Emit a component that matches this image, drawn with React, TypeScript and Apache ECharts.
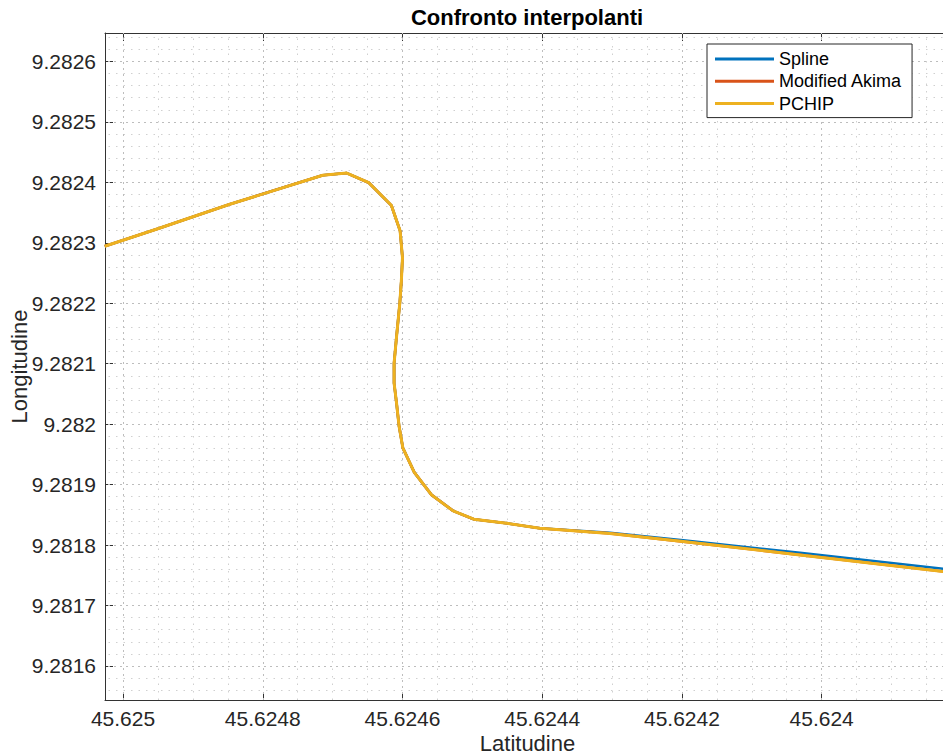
import React, { useEffect, useRef } from "react";
import * as echarts from "echarts";

// ---- data ----
const pchipLat = [
  45.6250262, 45.6249503, 45.6248472, 45.6247141, 45.6246797, 45.6246482, 45.624616,
  45.6246034, 45.6246, 45.6246017, 45.6246038, 45.6246085, 45.624612, 45.624612,
  45.6246085, 45.6246048, 45.6245995, 45.6245831, 45.6245584, 45.6245275, 45.6244979,
  45.624451, 45.6244034, 45.6243031, 45.6241982, 45.6240311, 45.6238163,
];
const pchipLon = [
  9.2822942, 9.2823232, 9.2823637, 9.2824117, 9.2824153, 9.2823993, 9.282362,
  9.2823198, 9.2822752, 9.2822354, 9.2822007, 9.2821449, 9.2821009, 9.2820678,
  9.2820347, 9.281996, 9.2819608, 9.2819202, 9.281883, 9.2818565, 9.2818428,
  9.2818361, 9.2818279, 9.2818193, 9.2818057, 9.2817837, 9.281755,
];
const akimaLat = [
  45.6250262, 45.6249503, 45.6248472, 45.6247141, 45.6246797, 45.6246482, 45.624616,
  45.6246034, 45.6246, 45.6246017, 45.6246038, 45.6246085, 45.624612, 45.624612,
  45.6246085, 45.6246048, 45.6245995, 45.6245831, 45.6245584, 45.6245275, 45.6244979,
  45.624451, 45.6244034, 45.6243031, 45.6241982, 45.6240311, 45.6238163,
];
const akimaLon = [
  9.2822942, 9.2823232, 9.2823637, 9.2824117, 9.2824153, 9.2823993, 9.282362,
  9.2823198, 9.2822752, 9.2822354, 9.2822007, 9.2821449, 9.2821009, 9.2820678,
  9.2820347, 9.281996, 9.2819608, 9.2819202, 9.281883, 9.2818565, 9.2818428,
  9.2818361, 9.2818279, 9.2818193, 9.2818057, 9.2817837, 9.281755,
];
const splineLat = [
  45.6250262, 45.6249503, 45.6248472, 45.6247141, 45.6246797, 45.6246482, 45.624616,
  45.6246034, 45.6246, 45.6246017, 45.6246038, 45.6246085, 45.624612, 45.624612,
  45.6246085, 45.6246048, 45.6245995, 45.6245831, 45.6245584, 45.6245275, 45.6244979,
  45.624451, 45.6244034, 45.6243031, 45.6241982, 45.6240311, 45.6238163,
];
const splineLon = [
  9.2822942, 9.2823232, 9.2823637, 9.2824117, 9.2824153, 9.2823993, 9.282362,
  9.2823198, 9.2822752, 9.2822354, 9.2822007, 9.2821449, 9.2821009, 9.2820678,
  9.2820347, 9.281996, 9.2819608, 9.2819202, 9.281883, 9.2818565, 9.2818428,
  9.2818361, 9.2818279, 9.2818201, 9.2818077, 9.2817873, 9.2817595,
];

const seriesNames = ["Spline", "Modified Akima", "PCHIP"];
const seriesColors = ["#0072BD", "#D95319", "#EDB120"];

const xTicks = [45.625, 45.6248, 45.6246, 45.6244, 45.6242, 45.624];
const yTicks = [
  9.2816, 9.2817, 9.2818, 9.2819, 9.282, 9.2821, 9.2822, 9.2823, 9.2824, 9.2825, 9.2826,
];
const xMin = 45.6238163;
const xMax = 45.6250258;
const yMin = 9.2815437;
const yMax = 9.282647;
const xMinorStep = 0.00005;
const xMinorPerMajor = 4;
const yMinorStep = 0.00002;
const yMinorPerMajor = 5;

const FONT = "'Liberation Sans', Arial, Helvetica, sans-serif";
const TXT = "#262626";

function pairs(a: number[], b: number[]) {
  return a.map((v, i) => [v, b[i]]);
}

function minorValues(min: number, max: number, step: number, per: number) {
  const out: number[] = [];
  const k0 = Math.ceil(min / step - 1e-9);
  const k1 = Math.floor(max / step + 1e-9);
  for (let k = k0; k <= k1; k++) {
    if (k % per === 0) continue;
    out.push(+(k * step).toFixed(8));
  }
  return out;
}

export default function App() {
  const ref = useRef<HTMLDivElement>(null);
  useEffect(() => {
    if (!ref.current) return;
    const chart = echarts.init(ref.current, undefined, { renderer: "svg" });

    const xMinor = minorValues(xMin, xMax, xMinorStep, xMinorPerMajor);
    const yMinor = minorValues(yMin, yMax, yMinorStep, yMinorPerMajor);
    const vLines = (vals: number[]) => vals.map((v) => ({ coords: [[v, yMin], [v, yMax]] }));
    const hLines = (vals: number[]) => vals.map((v) => ({ coords: [[xMin, v], [xMax, v]] }));

    const fmt = (v: number) => String(+(+v).toFixed(7));
    const axisLineStyle = { lineStyle: { color: "#333333", width: 1 } };

    const widths = [2.6, 2.6, 3];
    const lineSeries = [
      pairs(splineLat, splineLon),
      pairs(akimaLat, akimaLon),
      pairs(pchipLat, pchipLon),
    ].map((d, i) => ({
      name: seriesNames[i],
      type: "line",
      data: d,
      showSymbol: false,
      symbol: "none",
      lineStyle: { color: seriesColors[i], width: widths[i] },
      itemStyle: { color: seriesColors[i] },
      z: 3,
      clip: true,
    }));

    chart.setOption({
      animation: false,
      backgroundColor: "#ffffff",
      textStyle: { fontFamily: FONT },
      title: {
        text: "Confronto interpolanti",
        left: 527,
        textAlign: "center",
        top: 6,
        padding: 0,
        textStyle: { fontFamily: FONT, fontSize: 22, fontWeight: "bold", color: "#000000" },
      },
      grid: {
        left: 105,
        right: 10,
        top: 33,
        bottom: 56,
        containLabel: false,
        outerBoundsMode: "none",
      },
      legend: {
        data: seriesNames,
        orient: "vertical",
        left: 707,
        top: 44,
        icon: "rect",
        itemWidth: 59,
        itemHeight: 3,
        itemGap: 4.3,
        padding: [6, 10, 5, 8],
        backgroundColor: "#ffffff",
        borderColor: "#262626",
        borderWidth: 1,
        borderRadius: 0,
        selectedMode: false,
        textStyle: { fontFamily: FONT, fontSize: 18, color: "#000000", lineHeight: 18 },
      },
      xAxis: [
        {
          type: "value",
          inverse: true,
          min: xMin,
          max: xMax,
          position: "bottom",
          name: "Latitudine",
          nameLocation: "middle",
          nameGap: 32,
          nameMoveOverlap: false,
          nameTextStyle: { fontFamily: FONT, fontSize: 22, color: TXT, lineHeight: 22 },
          axisLine: axisLineStyle,
          axisTick: { show: true, inside: true, length: 8, customValues: xTicks, lineStyle: { color: "#333" } },
          axisLabel: {
            customValues: xTicks,
            formatter: fmt,
            margin: 8,
            fontFamily: FONT,
            fontSize: 21,
            color: TXT,
          },
          splitLine: { show: false },
        },
        {
          type: "value",
          inverse: true,
          min: xMin,
          max: xMax,
          position: "top",
          axisLine: axisLineStyle,
          axisTick: { show: true, inside: true, length: 8, customValues: xTicks, lineStyle: { color: "#333" } },
          axisLabel: { show: false },
          splitLine: { show: false },
        },
      ],
      yAxis: [
        {
          type: "value",
          min: yMin,
          max: yMax,
          position: "left",
          name: "Longitudine",
          nameLocation: "middle",
          nameGap: 75,
          nameMoveOverlap: false,
          nameTextStyle: { fontFamily: FONT, fontSize: 22, color: TXT, lineHeight: 22 },
          axisLine: axisLineStyle,
          axisTick: { show: true, inside: true, length: 8, customValues: yTicks, lineStyle: { color: "#333" } },
          axisLabel: {
            customValues: yTicks,
            formatter: fmt,
            margin: 9,
            fontFamily: FONT,
            fontSize: 21,
            color: TXT,
          },
          splitLine: { show: false },
        },
        {
          type: "value",
          min: yMin,
          max: yMax,
          position: "right",
          axisLine: axisLineStyle,
          axisTick: { show: true, inside: true, length: 8, customValues: yTicks, lineStyle: { color: "#333" } },
          axisLabel: { show: false },
          splitLine: { show: false },
        },
      ],
      series: [
        {
          name: "__minorGrid",
          type: "lines",
          coordinateSystem: "cartesian2d",
          silent: true,
          z: 1,
          lineStyle: { color: "#d0d0d0", width: 1, type: [1.5, 6], opacity: 1 },
          data: [...vLines(xMinor), ...hLines(yMinor)],
        },
        {
          name: "__majorGrid",
          type: "lines",
          coordinateSystem: "cartesian2d",
          silent: true,
          z: 1,
          lineStyle: { color: "#bdbdbd", width: 1, type: [2, 4], opacity: 1 },
          data: [...vLines(xTicks), ...hLines(yTicks)],
        },
        ...lineSeries,
      ],
    });
    return () => chart.dispose();
  }, []);

  return (
    <div
      style={{
        position: "fixed",
        left: 0,
        top: 0,
        width: 943,
        height: 756,
        overflow: "hidden",
        background: "#fff",
      }}
    >
      <div ref={ref} style={{ width: 960, height: 756 }} />
    </div>
  );
}
